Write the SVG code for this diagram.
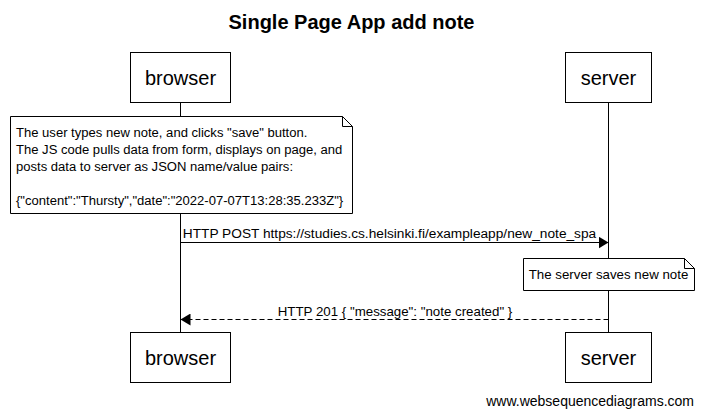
<svg xmlns="http://www.w3.org/2000/svg" width="703" height="416" viewBox="0 0 703 416">
<style>
text { font-family: "Liberation Sans", Arial, sans-serif; fill: #000; }
.title { font-size: 20px; font-weight: bold; text-anchor: middle; }
.actor { font-size: 20px; text-anchor: middle; }
.box { fill: #fff; stroke: #000; stroke-width: 1; }
.life { stroke: #000; stroke-width: 1; fill: none; }
.msg { font-size: 13.3px; text-anchor: middle; }
.note { font-size: 13.05px; }
.arrow { stroke: #000; stroke-width: 1; fill: none; }
.dash { stroke-dasharray: 5 3; }
.wm { font-size: 14px; text-anchor: end; }
</style>
<defs>
<marker id="head" markerWidth="11" markerHeight="12" refX="10" refY="6" orient="auto" markerUnits="userSpaceOnUse">
<path d="M0,0 L10,6 L0,12 Z" fill="#000"/>
</marker>
</defs>
<rect x="0" y="0" width="703" height="416" fill="#fff"/>
<text class="title" x="351.5" y="29">Single Page App add note</text>
<g id="lifelines">
<line class="life" x1="180.5" y1="102" x2="180.5" y2="333"/>
<line class="life" x1="608.5" y1="102" x2="608.5" y2="333"/>
</g>
<g id="browser-top">
<rect class="box" x="130.5" y="52.5" width="100" height="50"/>
<text class="actor" x="180.5" y="85">browser</text>
</g>
<g id="server-top">
<rect class="box" x="565.5" y="52.5" width="86" height="50"/>
<text class="actor" x="608.5" y="85">server</text>
</g>
<g id="note-browser">
<path class="box" d="M10.5,116.5 H342.5 L352.5,126.5 V213.5 H10.5 Z"/>
<path class="life" d="M342.5,116.5 V126.5 H352.5"/>
<text class="note" x="16" y="137">The user types new note, and clicks "save" button.</text>
<text class="note" x="16" y="154">The JS code pulls data from form, displays on page, and</text>
<text class="note" x="16" y="171">posts data to server as JSON name/value pairs:</text>
<text class="note" x="16" y="205">{"content":"Thursty","date":"2022-07-07T13:28:35.233Z"}</text>
</g>
<g id="note-server">
<path class="box" d="M523.5,258.5 H684.5 L694.5,268.5 V290.5 H523.5 Z"/>
<path class="life" d="M684.5,258.5 V268.5 H694.5"/>
<text class="note" x="608.5" y="279" text-anchor="middle" style="font-size:13.3px">The server saves new note</text>
</g>
<g id="connectors">
<line class="arrow" x1="180.5" y1="242.5" x2="608.5" y2="242.5" marker-end="url(#head)"/>
<text class="msg" x="389.5" y="238" style="font-size:13.7px">HTTP POST https://studies.cs.helsinki.fi/exampleapp/new_note_spa</text>
<line class="arrow dash" x1="608.5" y1="319.5" x2="180.5" y2="319.5" marker-end="url(#head)"/>
<text class="msg" x="395" y="316">HTTP 201 { "message": "note created" }</text>
</g>
<g id="browser-bottom">
<rect class="box" x="130.5" y="332.5" width="100" height="50"/>
<text class="actor" x="180.5" y="365">browser</text>
</g>
<g id="server-bottom">
<rect class="box" x="565.5" y="332.5" width="86" height="50"/>
<text class="actor" x="608.5" y="365">server</text>
</g>
<text class="wm" x="694" y="406">www.websequencediagrams.com</text>
</svg>
